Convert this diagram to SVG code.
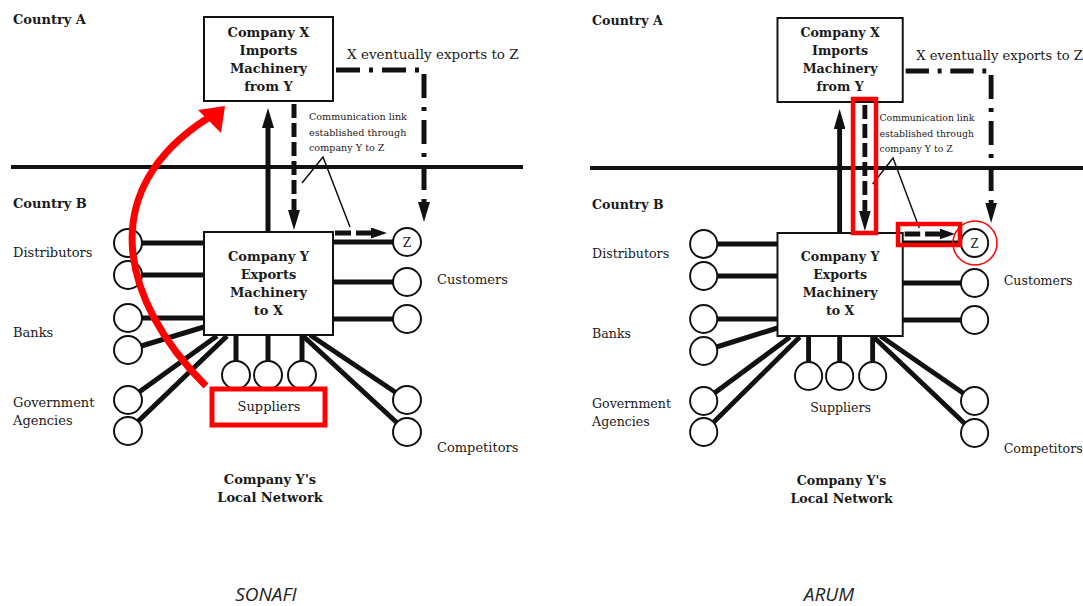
<svg xmlns="http://www.w3.org/2000/svg" width="1083" height="606" viewBox="0 0 1083 606">
<style>
.t{font-family:"DejaVu Serif","Liberation Serif",serif;font-size:13px;fill:#1a1a1a}
.b{font-weight:bold}
.s{font-size:9.6px}
.c{text-anchor:middle}
.box{fill:#fff;stroke:#111;stroke-width:2}
.nd{fill:#fff;stroke:#111;stroke-width:2}
.th{stroke:#111;stroke-width:5;fill:none}
.thin{stroke:#111;stroke-width:1.5;fill:none}
.dash{stroke:#111;stroke-width:5;fill:none;stroke-dasharray:14 5}
.dashh{stroke:#111;stroke-width:5;fill:none;stroke-dasharray:16 5}
.dd{stroke:#111;stroke-width:5;fill:none;stroke-dasharray:24 9 4 9}
.div{stroke:#111;stroke-width:4}
.red{fill:none;stroke:#f00;stroke-width:5}
.cap{font-family:"Open Sans","Noto Sans",sans-serif;font-style:italic;font-size:19px;fill:#222;text-anchor:middle}
</style>
<defs>
<marker id="ah" viewBox="0 0 20 12" refX="10" refY="6" markerWidth="20" markerHeight="12" markerUnits="userSpaceOnUse" orient="auto"><path d="M0,0 L20,6 L0,12 z" fill="#111"/></marker>
<marker id="ahs" viewBox="0 0 16 11" refX="8" refY="5.5" markerWidth="16" markerHeight="11" markerUnits="userSpaceOnUse" orient="auto"><path d="M0,0 L16,5.5 L0,11 z" fill="#111"/></marker>
</defs>
<rect width="1083" height="606" fill="#fff"/>

<g id="sonafi">
<text class="t b" x="13" y="24">Country A</text>
<text class="t b" x="13" y="208">Country B</text>
<line class="div" x1="11" y1="167" x2="523" y2="167"/>
<g id="connectors">
<line class="th" x1="128" y1="243" x2="204" y2="243"/>
<line class="th" x1="128" y1="275" x2="204" y2="275"/>
<line class="th" x1="128" y1="318" x2="204" y2="318"/>
<line class="th" x1="128" y1="350" x2="204" y2="327"/>
<line class="th" x1="128" y1="400" x2="217" y2="336"/>
<line class="th" x1="128" y1="431" x2="227" y2="336"/>
<line class="th" x1="236" y1="335" x2="236" y2="362"/>
<line class="th" x1="268" y1="335" x2="268" y2="362"/>
<line class="th" x1="302" y1="335" x2="302" y2="362"/>
<line class="th" x1="310" y1="335" x2="407" y2="400"/>
<line class="th" x1="303" y1="336" x2="407" y2="432"/>
<line class="th" x1="333" y1="242" x2="400" y2="242"/>
<line class="th" x1="333" y1="282" x2="400" y2="282"/>
<line class="th" x1="333" y1="319" x2="400" y2="319"/>
<line class="th" x1="268" y1="232" x2="268" y2="118" marker-end="url(#ah)"/>
<path class="dash" d="M294,104 V220" marker-end="url(#ah)"/>
<path class="dashh" d="M335,233 H379" marker-end="url(#ahs)"/>
<path class="dd" d="M336,70 H424 V212" marker-end="url(#ah)"/>
<path class="thin" d="M302,183 L323,157 L350,227"/>
</g>
<g id="companyX"><rect class="box" x="204" y="17" width="129" height="84"/>
<text class="t b c" x="268.5" y="36.5">Company X</text><text class="t b c" x="268.5" y="54.5">Imports</text><text class="t b c" x="268.5" y="72.5">Machinery</text><text class="t b c" x="268.5" y="90.5">from Y</text></g>
<g id="companyY"><rect class="box" x="204" y="232" width="129" height="103"/>
<text class="t b c" x="268.5" y="260.5">Company Y</text><text class="t b c" x="268.5" y="278.5">Exports</text><text class="t b c" x="268.5" y="296.5">Machinery</text><text class="t b c" x="268.5" y="314.5">to X</text></g>
<text class="t" x="347" y="59" style="font-size:13.5px">X eventually exports to Z</text>
<text class="t s" x="309" y="120">Communication link</text>
<text class="t s" x="309" y="136">established through</text>
<text class="t s" x="309" y="151">company Y to Z</text>
<g id="distributors"><circle class="nd" cx="128" cy="243" r="14"/><circle class="nd" cx="128" cy="275" r="14"/><text class="t" x="13" y="257">Distributors</text></g>
<g id="banks"><circle class="nd" cx="128" cy="318" r="14"/><circle class="nd" cx="128" cy="350" r="14"/><text class="t" x="13" y="337">Banks</text></g>
<g id="government"><circle class="nd" cx="128" cy="400" r="14"/><circle class="nd" cx="128" cy="431" r="14"/><text class="t" x="13" y="407">Government</text><text class="t" x="13" y="425">Agencies</text></g>
<g id="suppliers"><circle class="nd" cx="236" cy="375" r="14"/><circle class="nd" cx="268" cy="375" r="14"/><circle class="nd" cx="302" cy="375" r="14"/><text class="t c" x="269" y="411">Suppliers</text></g>
<g id="z"><circle class="nd" cx="407" cy="242" r="14"/><text class="t c" x="407" y="247" style="font-size:12px">Z</text></g>
<g id="customers"><circle class="nd" cx="407" cy="282" r="14"/><circle class="nd" cx="407" cy="319" r="14"/><text class="t" x="437" y="284">Customers</text></g>
<g id="competitors"><circle class="nd" cx="407" cy="400" r="14"/><circle class="nd" cx="407" cy="432" r="14"/><text class="t" x="437" y="452">Competitors</text></g>
<g id="network"><text class="t b c" x="270" y="484">Company Y's</text><text class="t b c" x="270" y="502">Local Network</text></g>
<g id="sonafi-red">
<rect class="red" x="212" y="389" width="113" height="36"/>
<path d="M206,386 C120,300 95,190 208,118" fill="none" stroke="#f00" stroke-width="7"/>
<polygon points="198,110 225,106 221,133" fill="#f00"/>
</g>
<text class="cap" x="266" y="601">SONAFI</text>
</g>

<g id="arum">
<g transform="matrix(0.971,0,0,1,579.4,1)">
<text class="t b" x="13" y="24">Country A</text>
<text class="t b" x="13" y="208">Country B</text>
<line class="div" x1="11" y1="167" x2="530" y2="167"/>
<g id="r-connectors">
<line class="th" x1="128" y1="243" x2="204" y2="243"/>
<line class="th" x1="128" y1="275" x2="204" y2="275"/>
<line class="th" x1="128" y1="318" x2="204" y2="318"/>
<line class="th" x1="128" y1="350" x2="204" y2="327"/>
<line class="th" x1="128" y1="400" x2="217" y2="336"/>
<line class="th" x1="128" y1="431" x2="227" y2="336"/>
<line class="th" x1="236" y1="335" x2="236" y2="362"/>
<line class="th" x1="268" y1="335" x2="268" y2="362"/>
<line class="th" x1="302" y1="335" x2="302" y2="362"/>
<line class="th" x1="310" y1="335" x2="407" y2="400"/>
<line class="th" x1="303" y1="336" x2="407" y2="432"/>
<line class="th" x1="333" y1="242" x2="400" y2="242"/>
<line class="th" x1="333" y1="282" x2="400" y2="282"/>
<line class="th" x1="333" y1="319" x2="400" y2="319"/>
<line class="th" x1="268" y1="232" x2="268" y2="118" marker-end="url(#ah)"/>
<path class="dash" d="M294,104 V220" marker-end="url(#ah)"/>
<path class="dashh" d="M335,233 H379" marker-end="url(#ahs)"/>
<path class="dd" d="M336,70 H424 V212" marker-end="url(#ah)"/>
<path class="thin" d="M302,183 L323,157 L350,227"/>
</g>
<g id="r-companyX"><rect class="box" x="204" y="17" width="129" height="84"/>
<text class="t b c" x="268.5" y="36.5">Company X</text><text class="t b c" x="268.5" y="54.5">Imports</text><text class="t b c" x="268.5" y="72.5">Machinery</text><text class="t b c" x="268.5" y="90.5">from Y</text></g>
<g id="r-companyY"><rect class="box" x="204" y="232" width="129" height="103"/>
<text class="t b c" x="268.5" y="260.5">Company Y</text><text class="t b c" x="268.5" y="278.5">Exports</text><text class="t b c" x="268.5" y="296.5">Machinery</text><text class="t b c" x="268.5" y="314.5">to X</text></g>
<text class="t" x="347" y="59" style="font-size:13.5px">X eventually exports to Z</text>
<text class="t s" x="309" y="120">Communication link</text>
<text class="t s" x="309" y="136">established through</text>
<text class="t s" x="309" y="151">company Y to Z</text>
<g id="r-distributors"><circle class="nd" cx="128" cy="243" r="14"/><circle class="nd" cx="128" cy="275" r="14"/><text class="t" x="13" y="257">Distributors</text></g>
<g id="r-banks"><circle class="nd" cx="128" cy="318" r="14"/><circle class="nd" cx="128" cy="350" r="14"/><text class="t" x="13" y="337">Banks</text></g>
<g id="r-government"><circle class="nd" cx="128" cy="400" r="14"/><circle class="nd" cx="128" cy="431" r="14"/><text class="t" x="13" y="407">Government</text><text class="t" x="13" y="425">Agencies</text></g>
<g id="r-suppliers"><circle class="nd" cx="236" cy="375" r="14"/><circle class="nd" cx="268" cy="375" r="14"/><circle class="nd" cx="302" cy="375" r="14"/><text class="t c" x="269" y="411">Suppliers</text></g>
<g id="r-z"><circle class="nd" cx="407" cy="242" r="14"/><text class="t c" x="407" y="247" style="font-size:12px">Z</text></g>
<g id="r-customers"><circle class="nd" cx="407" cy="282" r="14"/><circle class="nd" cx="407" cy="319" r="14"/><text class="t" x="437" y="284">Customers</text></g>
<g id="r-competitors"><circle class="nd" cx="407" cy="400" r="14"/><circle class="nd" cx="407" cy="432" r="14"/><text class="t" x="437" y="452">Competitors</text></g>
<g id="r-network"><text class="t b c" x="270" y="484">Company Y's</text><text class="t b c" x="270" y="502">Local Network</text></g>
</g>
<g id="arum-red">
<rect class="red" x="853" y="99" width="23" height="134" style="stroke-width:4.5"/>
<rect class="red" x="898" y="224" width="62" height="21" style="stroke-width:4.5"/>
<circle cx="975" cy="243" r="22" fill="none" stroke="#f00" stroke-width="1.5"/>
</g>
<text class="cap" x="829" y="601">ARUM</text>
</g>
</svg>
